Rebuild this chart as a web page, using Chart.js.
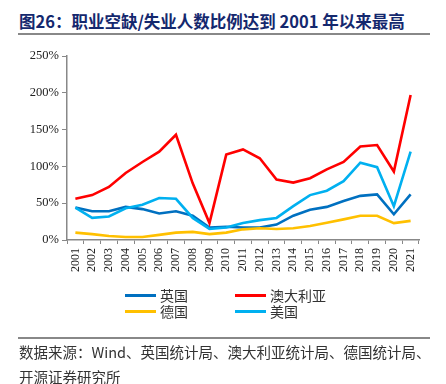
<!DOCTYPE html>
<html>
<head>
<meta charset="utf-8">
<script src="https://cdn.jsdelivr.net/npm/chart.js@4"></script>
<style>
    body { margin: 0; background: #fff; }
    .wrap { position: relative; width: 446px; height: 384px; overflow: hidden; font-family: "Noto Sans CJK SC", sans-serif; }
    #chart { position: absolute; left: 0; top: 0; }
    .title { position: absolute; left: 19px; top: 9px; font-size: 16.5px; font-weight: bold; color: #14286e; white-space: nowrap; }
    .rule { position: absolute; left: 18px; width: 412px; height: 2px; background: #888; }
    .legend { position: absolute; left: 125px; top: 285px; width: 260px; }
    .legend .item { position: absolute; display: flex; align-items: center; font-size: 14px; color: #333; white-space: nowrap; }
    .legend .swatch { width: 31px; height: 3px; margin-right: 4px; }
    .source { position: absolute; left: 19px; font-size: 14.5px; color: #333; white-space: nowrap; }
</style>
</head>
<body>
<div class="wrap">
    <div class="title">图26：职业空缺/失业人数比例达到 2001 年以来最高</div>
    <div class="rule" style="top: 33px;"></div>
    <canvas id="chart" width="446" height="384"></canvas>
    <div class="legend" id="legend"></div>
    <div class="rule" style="top: 337px;"></div>
    <div class="source" style="top: 341px;">数据来源：Wind、英国统计局、澳大利亚统计局、德国统计局、</div>
    <div class="source" style="top: 366px;">开源证券研究所</div>
</div>
<script>
// 年份
const years = ['2001', '2002', '2003', '2004', '2005', '2006', '2007', '2008', '2009', '2010', '2011',
    '2012', '2013', '2014', '2015', '2016', '2017', '2018', '2019', '2020', '2021'];

// 职业空缺/失业人数 (%)
const ukValues = [44, 39, 39, 45, 42, 36, 39, 33, 17, 18, 17, 17, 21, 33, 41, 45, 53, 60, 62, 35, 62];
const australiaValues = [56, 61, 72, 91, 106, 120, 143, 77, 23, 116, 123, 111, 82, 78, 84, 96, 106, 127, 129, 93, 197];
const germanyValues = [10, 8, 5.5, 4, 4, 7, 10, 11, 8, 10, 14.5, 16, 15, 16, 19, 23.5, 28, 33, 33, 23, 26];
const usValues = [44, 30, 32, 43, 48, 57, 56, 30, 15, 17, 23, 27, 30, 46, 61, 67, 80, 105, 99, 46, 120];

const yTicks = [0, 50, 100, 150, 200, 250];

const serif = '"Liberation Serif", "Times New Roman", serif';

function series(label, data, color, order) {
    return {
        label: label,
        data: data,
        borderColor: color,
        backgroundColor: color,
        borderWidth: 2.6,
        pointRadius: 0,
        tension: 0,
        order: order
    };
}

const chart = new Chart(document.getElementById('chart'), {
    type: 'line',
    data: {
        labels: years,
        datasets: [
            series('英国', ukValues, '#0070c0', 3),
            series('澳大利亚', australiaValues, '#ff0000', 0),
            series('德国', germanyValues, '#ffc000', 2),
            series('美国', usValues, '#00b0f0', 1)
        ]
    },
    options: {
        responsive: false,
        animation: false,
        layout: {
            padding: { left: 0, top: 56, right: 27, bottom: 104 }
        },
        plugins: {
            legend: { display: false },
            tooltip: { enabled: false }
        },
        scales: {
            x: {
                offset: true,
                grid: {
                    offset: true,
                    drawOnChartArea: false,
                    drawTicks: true,
                    tickLength: 4,
                    color: '#888'
                },
                border: { color: '#888', width: 1.5 },
                ticks: {
                    minRotation: 90,
                    maxRotation: 90,
                    autoSkip: false,
                    padding: 4,
                    color: '#222',
                    font: { family: serif, size: 12 }
                },
                afterFit: (scale) => { scale.height = 40; }
            },
            y: {
                min: 0,
                max: 250,
                afterBuildTicks: (scale) => {
                    scale.ticks = yTicks.map(v => ({ value: v }));
                },
                grid: {
                    drawOnChartArea: false,
                    drawTicks: true,
                    tickLength: 5,
                    color: '#888'
                },
                border: { color: '#888', width: 1.5 },
                ticks: {
                    padding: 3,
                    color: '#222',
                    font: { family: serif, size: 12.5 },
                    callback: (value) => value + '%'
                },
                afterFit: (scale) => { scale.width = 67; }
            }
        }
    }
});

// legend, two columns
const legendEl = document.getElementById('legend');
chart.data.datasets.forEach((ds, i) => {
    const item = document.createElement('div');
    item.className = 'item';
    item.style.left = (i % 2 === 0 ? 0 : 110) + 'px';
    item.style.top = (Math.floor(i / 2) * 16) + 'px';
    const swatch = document.createElement('span');
    swatch.className = 'swatch';
    swatch.style.background = ds.borderColor;
    const text = document.createElement('span');
    text.textContent = ds.label;
    item.appendChild(swatch);
    item.appendChild(text);
    legendEl.appendChild(item);
});
</script>
</body>
</html>
